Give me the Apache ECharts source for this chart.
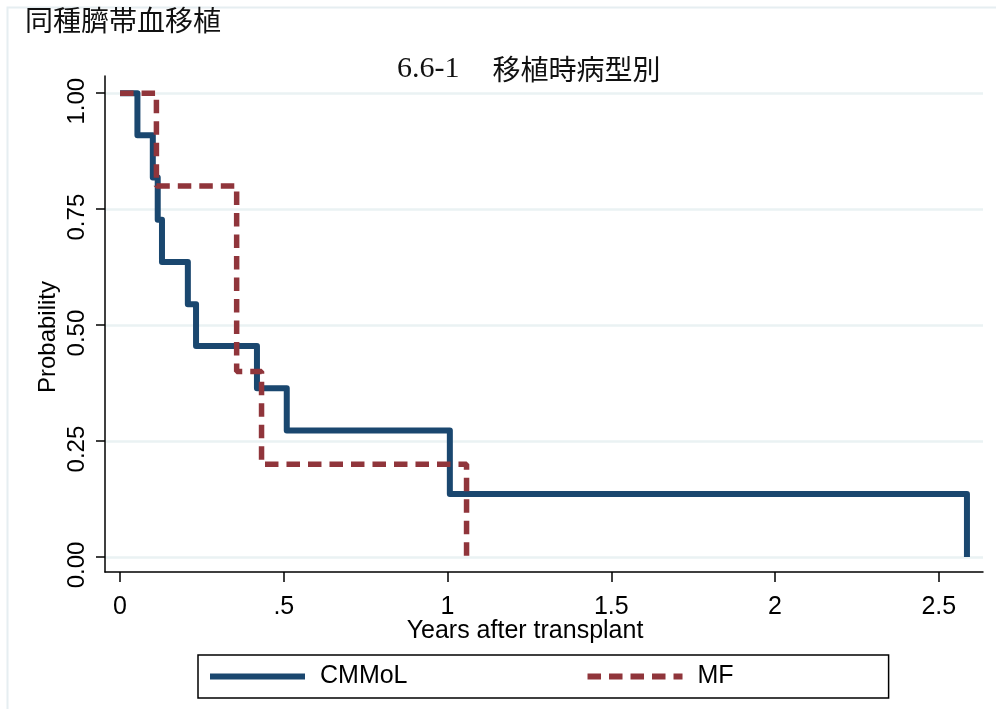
<!DOCTYPE html>
<html>
<head>
<meta charset="utf-8">
<script src="https://cdn.jsdelivr.net/npm/echarts@6/dist/echarts.min.js"></script>
<style>
html,body{margin:0;padding:0;background:#fff;}
#chart{width:996px;height:709px;}
</style>
</head>
<body>
<div id="chart"></div>
<script>
// ---- data ----
var cmmolTime = [0, 0.053, 0.100, 0.115, 0.128, 0.207, 0.232, 0.418, 0.509, 1.007, 2.586];
var cmmolSurv = [1.000, 0.909, 0.818, 0.727, 0.636, 0.545, 0.455, 0.364, 0.273, 0.136, 0.000];
var mfTime = [0, 0.111, 0.356, 0.432, 1.058];
var mfSurv = [1.0, 0.8, 0.4, 0.2, 0.0];
var xTickValues = [0, 0.5, 1, 1.5, 2, 2.5];
var xTickLabels = ['0', '.5', '1', '1.5', '2', '2.5'];
var yTickValues = [0, 0.25, 0.5, 0.75, 1];
var yTickLabels = ['0.00', '0.25', '0.50', '0.75', '1.00'];
var seriesNames = ['CMMoL', 'MF'];
var pageTitle = '同種臍帯血移植';
var chartTitleNum = '6.6-1';
var chartTitleText = '移植時病型別';
var xTitle = 'Years after transplant';
var yTitle = 'Probability';

function pairs(xs, ys) { return xs.map(function (x, i) { return [x, ys[i]]; }); }
function lookup(values, labels) {
  return function (v) {
    for (var i = 0; i < values.length; i++) { if (Math.abs(values[i] - v) < 1e-9) return labels[i]; }
    return '';
  };
}

var chart = echarts.init(document.getElementById('chart'), null, {renderer: 'canvas'});
var sans = 'Liberation Sans, Arial, sans-serif';
chart.setOption({
  animation: false,
  backgroundColor: '#ffffff',
  graphic: [{
    type: 'rect', left: 5, top: 5, silent: true,
    shape: {width: 1000, height: 720},
    style: {fill: 'none', stroke: '#e6eef1', lineWidth: 2}
  }],
  title: [{
    text: pageTitle, left: 20, top: 1,
    textStyle: {fontFamily: 'Noto Sans CJK JP', fontSize: 28, fontWeight: 'normal', color: '#111'}
  }, {
    text: '{num|' + chartTitleNum + '}{gap|　}{jp|' + chartTitleText + '}', left: 392, top: 49,
    textStyle: {
      fontSize: 28, fontWeight: 'normal', color: '#111',
      rich: {
        num: {fontFamily: 'Liberation Serif', fontSize: 30, color: '#111'},
        gap: {fontFamily: 'Noto Sans CJK JP', fontSize: 28, width: 33},
        jp: {fontFamily: 'Noto Sans CJK JP', fontSize: 28, color: '#111'}
      }
    }
  }],
  grid: {left: 105, right: 13, top: 76, bottom: 137, containLabel: false},
  xAxis: {
    type: 'value', min: -0.046, max: 2.635,
    name: xTitle, nameLocation: 'middle', nameGap: 47, nameMoveOverlap: false,
    nameTextStyle: {fontFamily: sans, fontSize: 25, color: '#000', padding: [0, 38, 0, 0]},
    axisLine: {show: true, onZero: false, lineStyle: {color: '#000', width: 1.5}},
    axisTick: {show: true, length: 10, customValues: xTickValues, lineStyle: {color: '#000', width: 1.5}},
    axisLabel: {customValues: xTickValues, formatter: lookup(xTickValues, xTickLabels), margin: 23,
      fontFamily: sans, fontSize: 25, color: '#000'},
    splitLine: {show: false}
  },
  yAxis: {
    type: 'value', min: -0.0323, max: 1.037,
    name: yTitle, nameLocation: 'middle', nameGap: 45, nameMoveOverlap: false,
    nameTextStyle: {fontFamily: sans, fontSize: 24, color: '#000', padding: [0, 26, 0, 0]},
    axisLine: {show: true, onZero: false, lineStyle: {color: '#000', width: 1.5}},
    axisTick: {show: true, length: 9, customValues: yTickValues, lineStyle: {color: '#000', width: 1.5}},
    axisLabel: {customValues: yTickValues, formatter: lookup(yTickValues, yTickLabels), rotate: 90, margin: 16,
      fontFamily: sans, fontSize: 24, color: '#000', padding: [0, 16, 0, 0]},
    splitLine: {show: true, lineStyle: {color: '#eaf2f3', width: 2.5}}
  },
  legend: {
    left: 198, top: 655, orient: 'horizontal',
    padding: [9, 155, 9, 9], itemGap: 177,
    itemWidth: 95, itemHeight: 14,
    borderColor: '#000', borderWidth: 1.5,
    lineStyle: {width: 6},
    itemStyle: {opacity: 0},
    textStyle: {fontFamily: sans, fontSize: 25, color: '#000', padding: [0, 0, 0, 10]},
    data: seriesNames
  },
  series: [{
    name: seriesNames[0], type: 'line', step: 'end', symbol: 'none',
    data: pairs(cmmolTime, cmmolSurv),
    lineStyle: {color: '#1a476f', width: 6, join: 'round'},
    itemStyle: {color: '#1a476f'}
  }, {
    name: seriesNames[1], type: 'line', step: 'end', symbol: 'none',
    data: pairs(mfTime, mfSurv),
    lineStyle: {color: '#90353b', width: 5.5, type: [13.5, 8], cap: 'butt'},
    itemStyle: {color: '#90353b'}
  }]
});
</script>
</body>
</html>
